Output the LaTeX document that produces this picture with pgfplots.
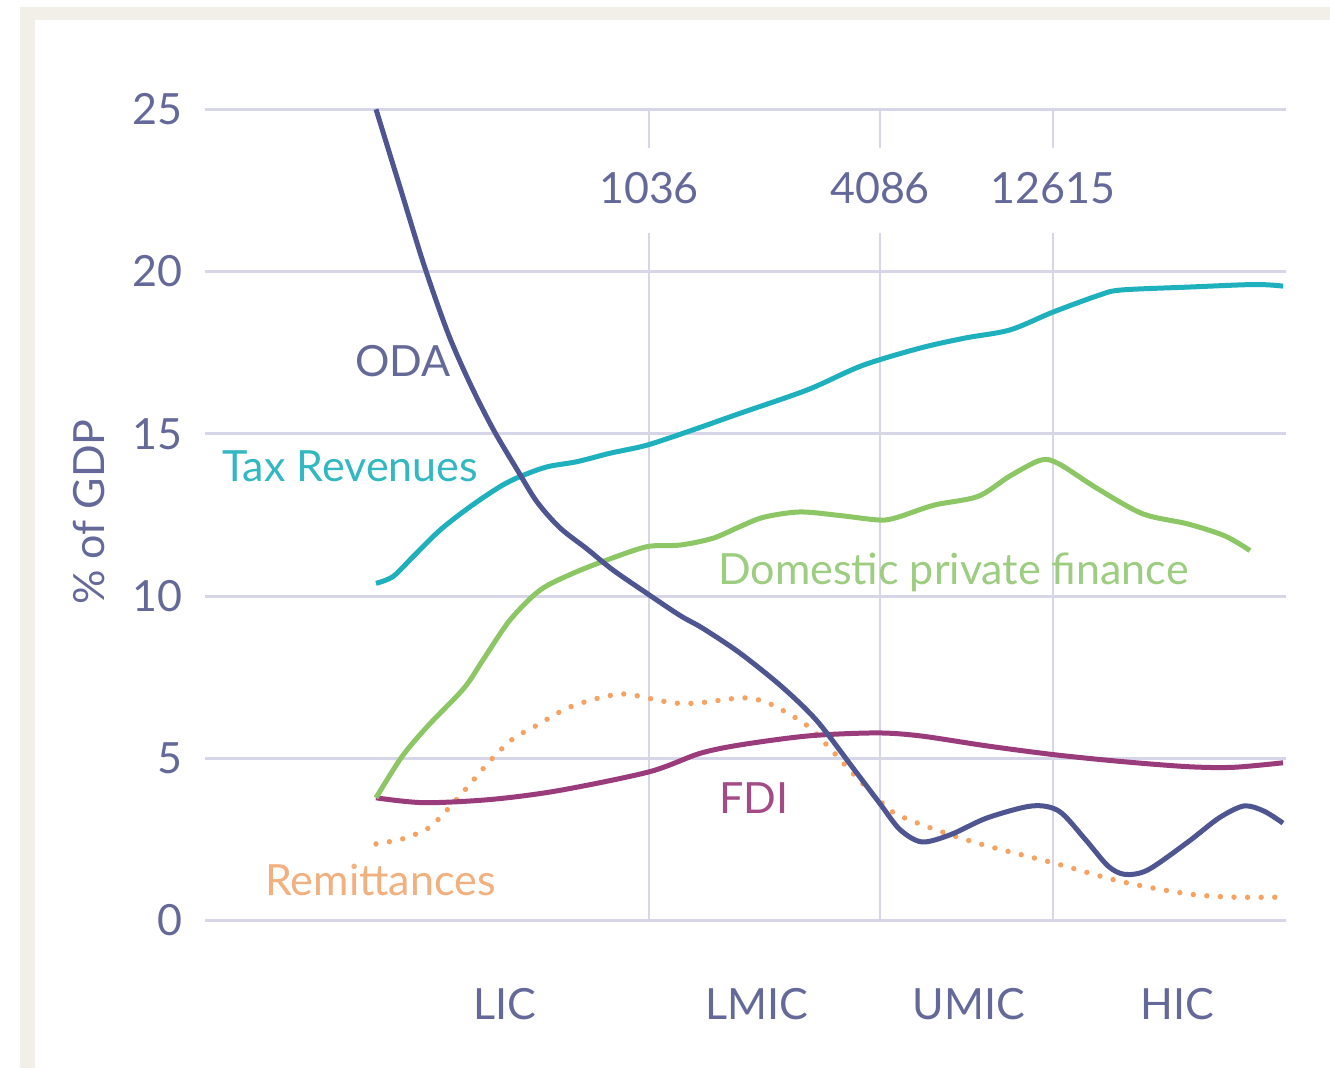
\documentclass[border=0pt]{standalone}
\usepackage{fontspec}
\setmainfont{Lato}
\usepackage{pgfplots}
\pgfplotsset{compat=1.18}
\definecolor{slate}{HTML}{656999}
\definecolor{odac}{HTML}{4E5590}
\definecolor{taxc}{HTML}{1EB1BD}
\definecolor{taxt}{HTML}{33B8C1}
\definecolor{greenc}{HTML}{8CC665}
\definecolor{greent}{HTML}{9DCD80}
\definecolor{fdic}{HTML}{9A3C7C}
\definecolor{fdit}{HTML}{A44B86}
\definecolor{remc}{HTML}{F5A263}
\definecolor{remt}{HTML}{F2B07F}
\definecolor{gridc}{HTML}{D6D6E8}
\definecolor{framebg}{HTML}{F2EEE8}
\newcommand{\lf}{\fontsize{21.5}{25}\selectfont}
\begin{document}
\begin{tikzpicture}[x=1pt,y=1pt]
\path[use as bounding box] (0,0) rectangle (665,534);
\fill[framebg] (10,0) rectangle (665,530.5);
\fill[white] (17.5,0) rectangle (665,524);
\begin{axis}[
  at={(102.5pt,73.75pt)}, anchor=south west,
  scale only axis, width=540.5pt, height=405.6pt,
  xmin=205, xmax=1286, ymin=0, ymax=25,
  axis line style={draw=none},
  xtick=\empty, ytick={0,5,10,15,20,25},
  major tick length=0pt,
  ymajorgrids, grid style={color=gridc, line width=1.5pt},
  yticklabel style={font=\lf, text=slate, inner sep=0pt, anchor=east, xshift=-11pt},
  /pgf/number format/assume math mode=true,
  clip=false,
]
% vertical threshold lines
\draw[gridc, line width=1.2pt] (axis cs:649,25) -- (axis cs:649,23.8) (axis cs:649,21.19) -- (axis cs:649,0);
\draw[gridc, line width=1.2pt] (axis cs:880,25) -- (axis cs:880,23.8) (axis cs:880,21.19) -- (axis cs:880,0);
\draw[gridc, line width=1.2pt] (axis cs:1053,25) -- (axis cs:1053,23.8) (axis cs:1053,21.19) -- (axis cs:1053,0);

% Remittances (dotted)
\addplot[remc, line width=2.7pt, smooth, line cap=round, dash pattern=on 0pt off 6.8pt] coordinates {
(376,2.36) (402,2.51) (428,2.84) (446,3.37) (464,3.99) (491,4.95) (513,5.6) (536,6.0)
(567,6.54) (598,6.85) (625,6.98) (656,6.8) (675,6.7) (697,6.7) (742,6.86) (764,6.75)
(786,6.42) (809,5.96) (831,5.27) (853,4.53) (880,3.68) (898,3.25) (942,2.73) (987,2.3)
(1054,1.77) (1121,1.2) (1188,0.82) (1233,0.72) (1283,0.72)};

% FDI
\addplot[fdic, line width=2.5pt, smooth] coordinates {
(376,3.78) (424,3.63) (491,3.73) (558,4.0) (649,4.58) (700,5.15) (742,5.42) (809,5.69)
(876,5.78) (920,5.69) (987,5.38) (1054,5.11) (1121,4.9) (1188,4.74) (1233,4.72) (1283,4.86)};

% Domestic private finance
\addplot[greenc, line width=2.5pt, smooth] coordinates {
(376,3.78) (402,5.05) (428,6.0) (464,7.16) (483,8.03) (510,9.26) (540,10.18) (573,10.7)
(607,11.11) (647,11.52) (680,11.57) (713,11.78) (740,12.14) (764,12.43) (800,12.59)
(840,12.48) (880,12.34) (898,12.43) (934,12.8) (978,13.07) (1010,13.7) (1041,14.19)
(1059,14.07) (1099,13.28) (1143,12.53) (1188,12.22) (1225,11.85) (1250,11.4)};

% Tax Revenues
\addplot[taxc, line width=2.5pt, smooth] coordinates {
(376,10.39) (393,10.6) (413,11.21) (440,12.03) (470,12.75) (500,13.37) (520,13.68)
(547,13.98) (577,14.14) (610,14.4) (647,14.65) (693,15.12) (740,15.63) (808,16.36)
(862,17.1) (920,17.64) (965,17.95) (1010,18.2) (1053,18.75) (1099,19.27) (1121,19.43)
(1188,19.52) (1255,19.6) (1283,19.55)};

% ODA
\addplot[odac, line width=2.5pt, smooth] coordinates {
(376,25.0) (400,22.6) (424,20.2) (448,18.1) (470,16.55) (493,15.15) (517,13.9) (537,12.9)
(560,12.1) (587,11.45) (613,10.8) (647,10.08) (680,9.4) (703,9.0) (740,8.24) (782,7.2)
(817,6.15) (853,4.7) (880,3.6) (900,2.8) (922,2.42) (951,2.65) (987,3.16) (1032,3.53)
(1059,3.37) (1085,2.51) (1108,1.68) (1125,1.42) (1148,1.56) (1188,2.42) (1219,3.16)
(1244,3.53) (1264,3.37) (1283,3.0)};

% top threshold labels
\node[font=\lf, text=slate, anchor=base, inner sep=0pt] at (axis cs:649,22.11) {1036};
\node[font=\lf, text=slate, anchor=base, inner sep=0pt] at (axis cs:880,22.11) {4086};
\node[font=\lf, text=slate, anchor=base, inner sep=0pt] at (axis cs:1053,22.11) {12615};
% income groups
\node[font=\lf, text=slate, anchor=base, inner sep=0pt] at (axis cs:505,-3.04) {LIC};
\node[font=\lf, text=slate, anchor=base, inner sep=0pt] at (axis cs:757,-3.04) {LMIC};
\node[font=\lf, text=slate, anchor=base, inner sep=0pt] at (axis cs:969,-3.04) {UMIC};
\node[font=\lf, text=slate, anchor=base, inner sep=0pt] at (axis cs:1177,-3.04) {HIC};
% series labels
\node[font=\lf, text=slate, anchor=base, inner sep=0pt] at (axis cs:403,16.78) {ODA};
\node[font=\lf, text=taxt, anchor=base west, inner sep=0pt] at (axis cs:222,13.54) {Tax Revenues};
\node[font=\lf, text=greent, anchor=base west, inner sep=0pt] at (axis cs:718,10.34) {Domestic private finance};
\node[font=\lf, text=fdit, anchor=base west, inner sep=0pt] at (axis cs:719,3.31) {FDI};
\node[font=\lf, text=remt, anchor=base west, inner sep=0pt] at (axis cs:265,0.77) {Remittances};
% y label
\node[font=\lf, text=slate, anchor=base, rotate=90, inner sep=0pt] at (axis cs:105,12.59) {\% of GDP};
\end{axis}
\end{tikzpicture}
\end{document}
